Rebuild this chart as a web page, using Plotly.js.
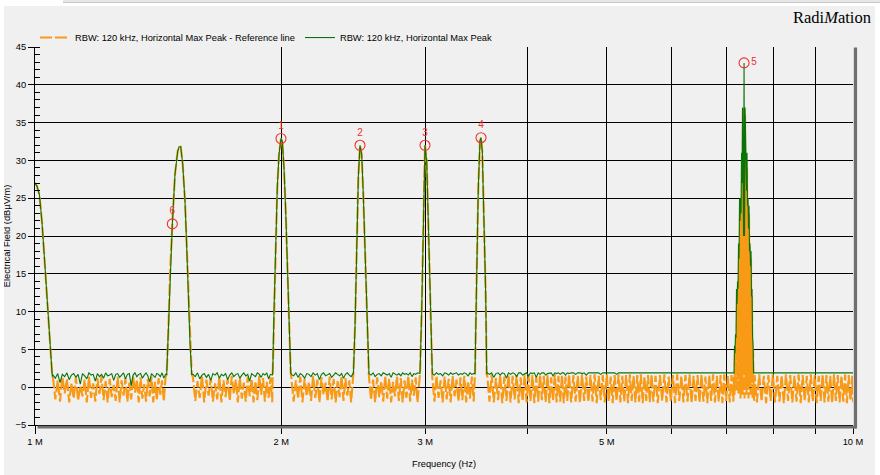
<!DOCTYPE html>
<html>
<head>
<meta charset="utf-8">
<script src="https://cdn.plot.ly/plotly-3.0.1.min.js"></script>
<style>
  html, body { margin:0; padding:0; background:#ffffff; }
  #wrap { position:relative; width:880px; height:475px; overflow:hidden; }
  #chart { position:absolute; left:0; top:0; width:880px; height:475px; }
  .strip { position:absolute; background:#ffffff; z-index:5; }
  #toolbar { position:absolute; left:63px; top:0; width:817px; height:2px; background:#e6e6e6; border-bottom:1px solid #c8c8c8; z-index:6; }
</style>
</head>
<body>
<div id="wrap">
  <div id="chart"></div>
  <div class="strip" style="left:0;top:0;width:880px;height:6px;"></div>
  <div class="strip" style="left:0;top:0;width:4px;height:475px;"></div>
  <div class="strip" style="left:875px;top:0;width:5px;height:475px;"></div>
  <div id="toolbar"></div>
</div>
<script>
// ---------------- DATA (frequency in MHz, level in dBµV/m) ----------------
const seriesNames = ['RBW: 120 kHz, Horizontal Max Peak - Reference line', 'RBW: 120 kHz, Horizontal Max Peak'];

// start of sweep: decaying signal from 1 MHz
const startFreq  = [1.000,1.0056,1.0127,1.0199,1.0285,1.0358,1.0431,1.0475,1.0499];
const startLevel = [27.0,26.6,25.4,21.8,16.0,11.0,5.3,2.8,1.4];

// noise floor segment A (1.05 - 1.45 MHz)
const freqA = [1.052,1.059,1.066,1.073,1.080,1.087,1.094,1.101,1.108,1.115,
  1.122,1.129,1.136,1.143,1.150,1.157,1.164,1.171,1.178,1.185,
  1.192,1.199,1.206,1.213,1.220,1.227,1.234,1.241,1.248,1.255,
  1.262,1.269,1.276,1.283,1.290,1.297,1.304,1.311,1.318,1.325,
  1.332,1.339,1.346,1.353,1.360,1.367,1.374,1.381,1.388,1.395,
  1.402,1.409,1.416,1.423,1.430,1.437,1.444];
const refA = [1.2,-1.6,0.9,-1.9,1.4,-0.8,1.1,-2.0,0.6,-1.5,
  1.3,-1.8,0.2,-1.2,1.0,-2.0,1.4,-1.4,0.5,-1.9,
  1.2,-0.9,1.5,-1.7,0.8,-2.0,1.1,-1.3,0.3,-1.8,
  1.4,-2.0,0.9,-1.1,1.2,-1.9,0.6,-1.6,1.5,-0.7,
  1.0,-2.0,1.3,-1.5,0.4,-1.9,1.1,-1.2,1.4,-2.0,
  0.7,-1.7,1.2,-1.0,0.9,-1.9,1.3];
const maxA = [1.6,1.2,1.8,0.6,1.7,1.4,1.9,1.0,1.6,1.8,
  1.3,1.7,0.4,1.8,1.5,1.1,1.9,1.6,1.7,0.8,
  1.8,1.4,1.7,1.2,1.9,1.5,1.6,1.8,0.9,1.7,
  1.8,1.3,1.6,1.9,1.1,1.7,1.8,0.2,1.6,1.9,
  1.4,1.7,1.8,1.2,1.6,1.9,1.5,0.7,1.8,1.6,
  1.3,1.8,1.7,1.4,1.9,1.2,1.7];

// peak near 1.5 MHz (marker 6)
const peak6Freq  = [1.4488,1.4554,1.4624,1.4719,1.4831,1.4944,1.4999,1.5071,1.5156,1.5254,1.5328,1.5397,1.5471,1.5545];
const peak6Level = [1.7,7.4,15.0,21.6,28.2,31.2,31.8,31.8,29.5,24.6,18.5,11.8,5.7,1.7];

// noise floor segment B (1.56 - 1.95 MHz)
const freqB = [1.56,1.57,1.58,1.59,1.60,1.61,1.62,1.63,1.64,1.65,
  1.66,1.67,1.68,1.69,1.70,1.71,1.72,1.73,1.74,1.75,
  1.76,1.77,1.78,1.79,1.80,1.81,1.82,1.83,1.84,1.85,
  1.86,1.87,1.88,1.89,1.90,1.91,1.92,1.93,1.94,1.95];
const refB = [1.3,-1.8,0.8,-1.4,1.5,-2.0,1.0,-1.1,1.2,-1.9,
  0.5,-1.6,1.4,-2.0,0.9,-1.3,1.2,-1.8,1.5,-0.9,
  1.0,-2.0,1.3,-1.5,0.6,-1.9,1.4,-1.2,1.1,-2.0,
  0.8,-1.7,1.5,-1.0,1.2,-1.9,0.7,-1.4,1.3,-2.0];
const maxB = [1.7,1.4,1.9,1.1,1.6,1.8,1.3,1.7,0.9,1.8,
  1.6,1.9,1.2,1.7,1.5,1.8,1.0,1.6,1.9,1.4,
  1.7,1.8,1.2,1.6,1.9,1.5,1.7,0.8,1.8,1.6,
  1.4,1.9,1.7,1.3,1.8,1.6,1.9,1.1,1.7,1.6];

// peak 1 at 2 MHz
const peak1Freq  = [1.9525,1.9597,1.9690,1.9779,1.9874,1.9986,2.0060,2.0156,2.0253,2.0344,2.0441,2.0540];
const peak1Level = [1.8,10.1,18.9,26.4,30.8,32.9,32.6,29.0,23.3,15.8,7.9,1.9];

// noise floor segment C (2.06 - 2.45 MHz)
const freqC = [2.058,2.071,2.084,2.097,2.110,2.123,2.136,2.149,2.162,2.175,
  2.188,2.201,2.214,2.227,2.240,2.253,2.266,2.279,2.292,2.305,
  2.318,2.331,2.344,2.357,2.370,2.383,2.396,2.409,2.422,2.435,2.448];
const refC = [1.2,-1.9,0.9,-1.5,1.4,-2.0,1.1,-1.2,0.7,-1.8,
  1.5,-1.4,1.0,-2.0,1.3,-1.0,0.6,-1.9,1.4,-1.6,
  1.1,-2.0,0.8,-1.3,1.5,-1.8,1.2,-1.1,0.9,-2.0,1.3];
const maxC = [1.7,1.5,1.9,1.3,1.8,1.6,1.2,1.8,1.7,1.4,
  1.9,1.6,1.8,1.0,1.7,1.9,1.5,1.7,1.8,1.3,
  1.6,1.9,1.7,1.5,1.8,1.2,1.7,1.9,1.6,1.4,1.8];

// peak 2 at 2.5 MHz
const peak2Freq  = [2.4505,2.4615,2.4733,2.4845,2.4964,2.5083,2.5197,2.5317,2.5439,2.5554];
const peak2Level = [1.8,7.9,19.8,27.7,32.0,30.8,25.5,17.6,9.2,1.8];

// noise floor segment D (2.56 - 2.95 MHz)
const freqD = [2.560,2.575,2.590,2.605,2.620,2.635,2.650,2.665,2.680,2.695,
  2.710,2.725,2.740,2.755,2.770,2.785,2.800,2.815,2.830,2.845,
  2.860,2.875,2.890,2.905,2.920,2.935,2.950];
const refD = [1.4,-1.7,1.0,-2.0,1.3,-1.3,0.8,-1.9,1.5,-1.5,
  1.1,-2.0,0.7,-1.2,1.4,-1.8,1.2,-2.0,0.9,-1.4,
  1.5,-1.9,1.0,-1.1,1.3,-2.0,1.2];
const maxD = [1.8,1.6,1.9,1.4,1.7,1.8,1.5,1.9,1.7,1.6,
  1.8,1.3,1.9,1.7,1.6,1.8,1.5,1.9,1.7,1.8,
  1.6,1.9,1.4,1.8,1.7,1.9,1.8];

// peak 3 at 3 MHz
const peak3Freq  = [2.9557,2.9699,2.9833,2.9976,3.0120,3.0256,3.0401,3.0547];
const peak3Level = [1.8,10.1,23.3,32.0,29.9,21.1,11.8,2.1];

// noise floor segment E (3.06 - 3.44 MHz)
const freqE = [3.060,3.078,3.096,3.114,3.132,3.150,3.168,3.186,3.204,3.222,
  3.240,3.258,3.276,3.294,3.312,3.330,3.348,3.366,3.384,3.402,3.420,3.438];
const refE = [1.3,-1.9,1.5,-1.4,0.9,-2.0,1.4,-1.6,1.1,-2.0,
  1.5,-1.2,1.0,-1.9,1.3,-1.7,1.5,-2.0,0.8,-1.5,1.4,-1.9];
const maxE = [1.8,1.6,1.9,1.7,1.8,1.5,1.9,1.8,1.6,1.9,
  1.7,1.8,1.9,1.6,1.8,1.7,1.9,1.8,1.5,1.9,1.7,1.8];

// peak 4 at 3.5 MHz
const peak4Freq  = [3.4506,3.4672,3.4828,3.4995,3.5094,3.5222,3.5391,3.5561,3.5662];
const peak4Level = [1.8,14.7,26.4,32.6,33.0,31.2,23.3,12.3,1.7];

// noise floor segment F (3.57 - 7.14 MHz)
const freqF1 = [3.572,3.594,3.616,3.638,3.660,3.682,3.704,3.726,3.748,3.770,
  3.792,3.814,3.836,3.858,3.880,3.902,3.924,3.946,3.968,3.990,
  4.012,4.034,4.056,4.078,4.100,4.122,4.144,4.166,4.188,4.210,
  4.232,4.254,4.276,4.298,4.320,4.342,4.364,4.386,4.408,4.430,
  4.452,4.474,4.496];
const refF1 = [1.5,-1.9,1.7,-2.0,1.2,-1.7,1.6,-2.1,1.4,-1.8,
  1.7,-2.0,1.5,-1.6,1.6,-2.1,1.3,-1.9,1.7,-2.0,
  1.5,-1.8,1.6,-2.1,1.4,-1.9,1.7,-1.7,1.5,-2.0,
  1.6,-2.1,1.3,-1.8,1.7,-2.0,1.5,-1.9,1.6,-2.1,
  1.4,-1.8,1.7];
const maxF1 = [1.9,1.7,1.9,1.3,1.8,1.9,1.6,1.9,1.8,1.2,
  1.9,1.7,1.9,1.8,1.4,1.9,1.9,1.6,1.8,1.9,
  1.5,1.9,1.8,1.9,1.3,1.9,1.7,1.9,1.9,1.6,
  1.8,1.9,1.9,1.5,1.9,1.8,1.9,1.7,1.9,1.9,
  1.6,1.9,1.8];
const freqF2 = [4.524,4.552,4.580,4.608,4.636,4.664,4.692,4.720,4.748,4.776,
  4.804,4.832,4.860,4.888,4.916,4.944,4.972,5.000,5.028,5.056,
  5.084,5.112,5.140,5.168,5.196,5.224,5.252,5.280,5.308,5.336,
  5.364,5.392,5.420,5.448,5.476,5.504,5.532,5.560,5.588,5.616,
  5.644,5.672,5.700];
const refF2 = [-2.0,1.6,-1.9,1.5,-2.1,1.7,-1.8,1.4,-2.0,1.6,
  -1.9,1.7,-2.1,1.5,-1.7,1.6,-2.0,1.7,-1.9,1.4,
  -2.1,1.6,-1.8,1.7,-2.0,1.5,-1.9,1.6,-2.1,1.7,
  -1.8,1.5,-2.0,1.6,-1.9,1.7,-2.1,1.4,-1.8,1.6,
  -2.0,1.7,-1.9];
const maxF2 = [1.9,1.9,1.7,1.9,1.9,1.8,1.9,1.6,1.9,1.9,
  1.9,1.8,1.9,1.9,1.7,1.9,1.9,1.9,1.8,1.9,
  1.9,1.9,1.7,1.9,1.9,1.9,1.9,1.8,1.9,1.9,
  1.9,1.9,1.8,1.9,1.9,1.9,1.9,1.9,1.8,1.9,
  1.9,1.9,1.9];
const freqF3 = [5.736,5.772,5.808,5.844,5.880,5.916,5.952,5.988,6.024,6.060,
  6.096,6.132,6.168,6.204,6.240,6.276,6.312,6.348,6.384,6.420,
  6.456,6.492,6.528,6.564,6.600,6.636,6.672,6.708,6.744,6.780,
  6.816,6.852,6.888,6.924,6.960,6.996,7.032,7.068,7.104,7.140];
const refF3 = [1.5,-2.1,1.6,-1.8,1.7,-2.0,1.4,-1.9,1.6,-2.1,
  1.7,-1.8,1.5,-2.0,1.6,-1.9,1.7,-2.1,1.5,-1.8,
  1.6,-2.0,1.7,-1.9,1.4,-2.1,1.6,-1.8,1.7,-2.0,
  1.5,-1.9,1.6,-2.1,1.7,-1.8,1.5,-2.0,1.6,-1.9];
const maxF3 = [1.9,1.9,1.9,1.9,1.9,1.8,1.9,1.9,1.9,1.9,
  1.9,1.9,1.9,1.9,1.8,1.9,1.9,1.9,1.9,1.9,
  1.9,1.9,1.9,1.9,1.9,1.9,1.8,1.9,1.9,1.9,
  1.9,1.9,1.9,1.9,1.9,1.9,1.9,1.9,1.9,1.9];

// peak 5 at ~7.36 MHz (broadband comb)
const peak5Freq = [7.154,7.164,7.174,7.184,7.194,7.204,7.215,7.225,7.235,7.245,
  7.256,7.266,7.276,7.286,7.297,7.307,7.317,7.327,7.338,7.348,
  7.359,7.369,7.380,7.390,7.400,7.411,7.421,7.431,7.442,7.452,
  7.463,7.473,7.484,7.494,7.505,7.515,7.526,7.536,7.548,7.558,7.569];
const peak5Max = [1.9,5.5,4.5,7.0,6.5,13.0,11.0,14.0,13.0,19.0,
  17.0,25.0,22.0,25.0,23.0,31.0,27.0,37.0,30.0,20.0,
  42.9,20.0,37.0,30.0,31.0,26.0,31.0,24.0,25.0,21.0,
  24.0,18.0,19.0,16.0,18.0,12.0,13.0,7.0,5.5,1.9,1.9];
const peak5Ref = [1.5,-1.0,5.0,0.5,6.5,-0.5,12.0,1.0,13.0,-1.0,
  18.0,0.5,24.0,-1.5,24.0,1.0,30.0,-1.0,37.0,2.0,
  24.0,-1.5,36.0,0.5,30.0,-1.0,29.0,1.0,24.0,-1.5,
  23.0,0.5,18.0,-1.0,17.0,1.0,12.0,-1.5,5.0,1.0,-1.8];

// noise floor segment G (7.58 - 10 MHz)
const freqG = [7.58,7.63,7.68,7.73,7.78,7.83,7.88,7.93,7.98,8.03,
  8.08,8.13,8.18,8.23,8.28,8.33,8.38,8.43,8.48,8.53,
  8.58,8.63,8.68,8.73,8.78,8.83,8.88,8.93,8.98,9.03,
  9.08,9.13,9.18,9.23,9.28,9.33,9.38,9.43,9.48,9.53,
  9.58,9.63,9.68,9.73,9.78,9.83,9.88,9.93,9.98,10.0];
const refG = [1.6,-2.0,1.7,-1.9,1.5,-2.1,1.6,-1.8,1.7,-2.0,
  1.5,-1.9,1.6,-2.1,1.7,-1.8,1.6,-2.0,1.5,-1.9,
  1.7,-2.1,1.6,-1.8,1.5,-2.0,1.7,-1.9,1.6,-2.1,
  1.5,-1.8,1.7,-2.0,1.6,-1.9,1.5,-2.1,1.7,-1.8,
  1.6,-2.0,1.5,-1.9,1.7,-2.1,1.6,-1.8,1.5,-2.0];
const maxG = [1.9,1.9,1.9,1.8,1.9,1.9,1.9,1.9,1.9,1.9,
  1.9,1.9,1.8,1.9,1.9,1.9,1.9,1.9,1.9,1.9,
  1.9,1.9,1.9,1.9,1.9,1.8,1.9,1.9,1.9,1.9,
  1.9,1.9,1.9,1.9,1.9,1.9,1.9,1.9,1.8,1.9,
  1.9,1.9,1.9,1.9,1.9,1.9,1.9,1.9,1.9,1.9];

// limit-line markers
const markerLabels = ['1','2','3','4','5','6'];
const markerFreq   = [1.9986,2.4964,2.9976,3.5094,7.359,1.4719];
const markerLevel  = [32.9,32.0,32.0,33.0,42.9,21.6];

// axis tick labels
const xTickVals  = [1,2,3,4,5,6,7,8,9,10];
const xTickText  = ['1 M','2 M','3 M','','5 M','','','','','10 M'];

// ---------------- assemble sweep ----------------
// [freq, reference-line levels, max-peak levels]
const segments = [
  [startFreq, startLevel, startLevel],
  [freqA, refA, maxA],
  [peak6Freq, peak6Level, peak6Level],
  [freqB, refB, maxB],
  [peak1Freq, peak1Level, peak1Level],
  [freqC, refC, maxC],
  [peak2Freq, peak2Level, peak2Level],
  [freqD, refD, maxD],
  [peak3Freq, peak3Level, peak3Level],
  [freqE, refE, maxE],
  [peak4Freq, peak4Level, peak4Level],
  [freqF1, refF1, maxF1],
  [freqF2, refF2, maxF2],
  [freqF3, refF3, maxF3],
  [peak5Freq, peak5Ref, peak5Max],
  [freqG, refG, maxG]
];
const sweepFreq = [], sweepRef = [], sweepMax = [];
segments.forEach(([f, r, m]) => {
  const n = Math.min(f.length, r.length, m.length);
  for (let i = 0; i < n; i++) { sweepFreq.push(f[i]); sweepRef.push(r[i]); sweepMax.push(m[i]); }
});

const FONT = '"Liberation Sans", Arial, Helvetica, sans-serif';
const FS = 9.3;

const traces = [
  {
    type:'scatter', mode:'lines', name: seriesNames[0],
    x: sweepFreq, y: sweepRef,
    line:{color:'#f99a16', width:2.1, dash:'12px,3px'},
    hoverinfo:'skip'
  },
  {
    type:'scatter', mode:'lines', name: seriesNames[1],
    x: sweepFreq, y: sweepMax,
    line:{color:'#0a730a', width:1.1},
    hoverinfo:'skip'
  },
  {
    type:'scatter', mode:'markers+text', showlegend:false,
    x: markerFreq, y: markerLevel, text: markerLabels,
    textposition:['top center','top center','top center','top center','middle right','top center'],
    textfont:{color:'#f03030', size:10, family:FONT},
    marker:{symbol:'circle-open', size:10, color:'#f03030', line:{width:1.1, color:'#f03030'}},
    hoverinfo:'skip', cliponaxis:false
  }
];

const layout = {
  width:880, height:475,
  margin:{l:35, r:27, t:47, b:50, pad:0},
  paper_bgcolor:'#f0f0f0', plot_bgcolor:'#f0f0f0',
  font:{family:FONT, size:FS, color:'#000'},
  showlegend:true,
  legend:{orientation:'h', x:0, xanchor:'left', y:1.025, yanchor:'middle',
          bgcolor:'rgba(0,0,0,0)', font:{family:FONT, size:FS, color:'#000'}, traceorder:'normal'},
  xaxis:{
    type:'log', range:[0,1],
    tickmode:'array', tickvals:xTickVals, ticktext:xTickText,
    showgrid:true, gridcolor:'#000', gridwidth:1,
    showline:true, linecolor:'#000', linewidth:1, mirror:false,
    ticks:'outside', ticklen:8, tickcolor:'#000', tickwidth:1,
    tickfont:{family:FONT, size:FS, color:'#000'},
    zeroline:false,
    title:{text:'Frequency (Hz)', font:{family:FONT, size:FS, color:'#000'}, standoff:14}
  },
  yaxis:{
    range:[-5,45], tickmode:'linear', tick0:0, dtick:5,
    showgrid:true, gridcolor:'#000', gridwidth:1,
    showline:true, linecolor:'#000', linewidth:1,
    ticks:'outside', ticklen:6, tickcolor:'#000', tickwidth:1,
    minor:{dtick:1, tick0:0, ticks:'inside', ticklen:5, tickcolor:'#000', tickwidth:1, showgrid:false},
    tickfont:{family:FONT, size:FS, color:'#000'},
    zeroline:false,
    title:{text:'Electrical Field (dBµV/m)', font:{family:FONT, size:FS, color:'#000'}, standoff:3}
  },
  shapes:[
    {type:'rect', xref:'paper', yref:'paper', x0:0.003, x1:1.004, y0:-0.0095, y1:-0.002, fillcolor:'#6f6f6f', line:{width:0}, layer:'above'},
    {type:'rect', xref:'paper', yref:'paper', x0:1.001, x1:1.005, y0:-0.0095, y1:0.999, fillcolor:'#6f6f6f', line:{width:0}, layer:'above'}
  ],
  annotations:[
    {text:'Radi<i>M</i>ation', xref:'paper', yref:'paper', x:1.0245, y:1.078, xanchor:'right', yanchor:'middle',
     showarrow:false, font:{family:'"Liberation Serif", "Times New Roman", serif', size:16.5, color:'#000'}}
  ]
};

Plotly.newPlot('chart', traces, layout, {staticPlot:true, displayModeBar:false});
</script>
</body>
</html>
